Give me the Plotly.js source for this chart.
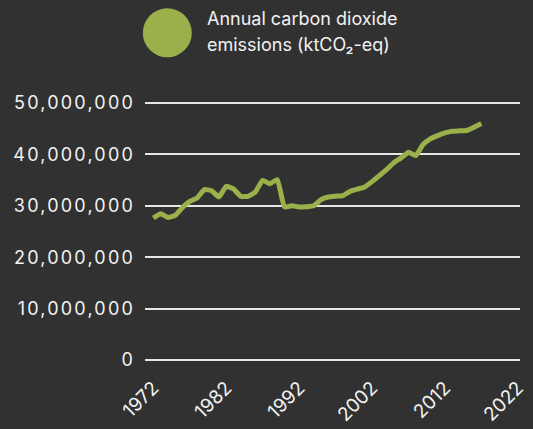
<!DOCTYPE html>
<html>
<head>
<meta charset="utf-8">
<script src="https://cdn.plot.ly/plotly-3.0.1.min.js"></script>
<style>
html,body{margin:0;padding:0;background:#313131;}
#chart{width:533px;height:429px;}
.ytick text{letter-spacing:2.2px;}
</style>
</head>
<body>
<div id="chart"></div>
<script>
const years = [1972,1973,1974,1975,1976,1977,1978,1979,1980,1981,1982,1983,1984,1985,1986,1987,1988,1989,1990,1991,1992,1993,1994,1995,1996,1997,1998,1999,2000,2001,2002,2003,2004,2005,2006,2007,2008,2009,2010,2011,2012,2013,2014,2015,2016,2017];
const emissions = [27620000,28460000,27740000,28130000,29670000,30860000,31520000,33140000,32940000,31720000,33780000,33270000,31830000,31830000,32690000,34950000,34310000,35090000,29770000,30020000,29770000,29820000,30020000,31190000,31720000,31870000,31970000,32810000,33240000,33660000,34700000,35870000,37040000,38400000,39320000,40410000,39770000,41910000,43020000,43660000,44190000,44500000,44580000,44640000,45280000,46000000];
const seriesName = "Annual carbon dioxide emissions (ktCO₂-eq)";
const legendLines = ["Annual carbon dioxide", "emissions (ktCO₂-eq)"];
const xTicks = [1972,1982,1992,2002,2012,2022];
const yTicks = [0,10000000,20000000,30000000,40000000,50000000];

const green = "#99b04b";
const bg = "#313131";
const textColor = "#f2f2f2";
const font = "Inter, 'Noto Sans', sans-serif";

const trace = {
  x: years, y: emissions, type: "scatter", mode: "lines",
  name: seriesName, showlegend: false,
  line: {color: green, width: 5, shape: "spline", smoothing: 0.4},
  hoverinfo: "x+y"
};

const L = 145, R = 13, T = 100, B = 69, W = 533, H = 429;
const pw = W - L - R, ph = H - T - B;
const px2paperX = p => (p - L) / pw;
const px2paperY = p => (H - B - p) / ph;

const layout = {
  width: W, height: H,
  paper_bgcolor: bg, plot_bgcolor: bg,
  margin: {l: L, r: R, t: T, b: B, pad: 0},
  font: {family: font, color: textColor, size: 17},
  showlegend: false,
  xaxis: {
    range: [1970.86, 2022.3],
    tickvals: xTicks, ticktext: xTicks.map(String),
    tickangle: -45, showgrid: false, zeroline: false, showline: false,
    ticks: "", ticklabelstandoff: 12,
    tickfont: {family: font, size: 19, color: textColor}
  },
  yaxis: {
    range: [0, 50580000],
    tickvals: yTicks, tickformat: ",d",
    showgrid: true, gridcolor: "#e6e6e6", gridwidth: 1.8,
    zeroline: true, zerolinecolor: "#e6e6e6", zerolinewidth: 1.8,
    showline: false, ticks: "", ticklabelstandoff: 9,
    tickfont: {family: font, size: 18, color: textColor}
  },
  shapes: [{
    type: "circle", xref: "paper", yref: "paper",
    xsizemode: "pixel", ysizemode: "pixel",
    xanchor: px2paperX(167.3), yanchor: px2paperY(32.8),
    x0: -24.5, x1: 24.5, y0: -24.5, y1: 24.5,
    fillcolor: green, line: {width: 0}
  }],
  annotations: legendLines.map((t, i) => ({
    text: t, xref: "paper", yref: "paper",
    x: px2paperX(205), y: px2paperY(18 + i * 26.5),
    xanchor: "left", yanchor: "middle", showarrow: false,
    font: {family: font, size: 18, color: textColor}
  }))
};

Plotly.newPlot("chart", [trace], layout, {displayModeBar: false, staticPlot: true});
</script>
</body>
</html>
